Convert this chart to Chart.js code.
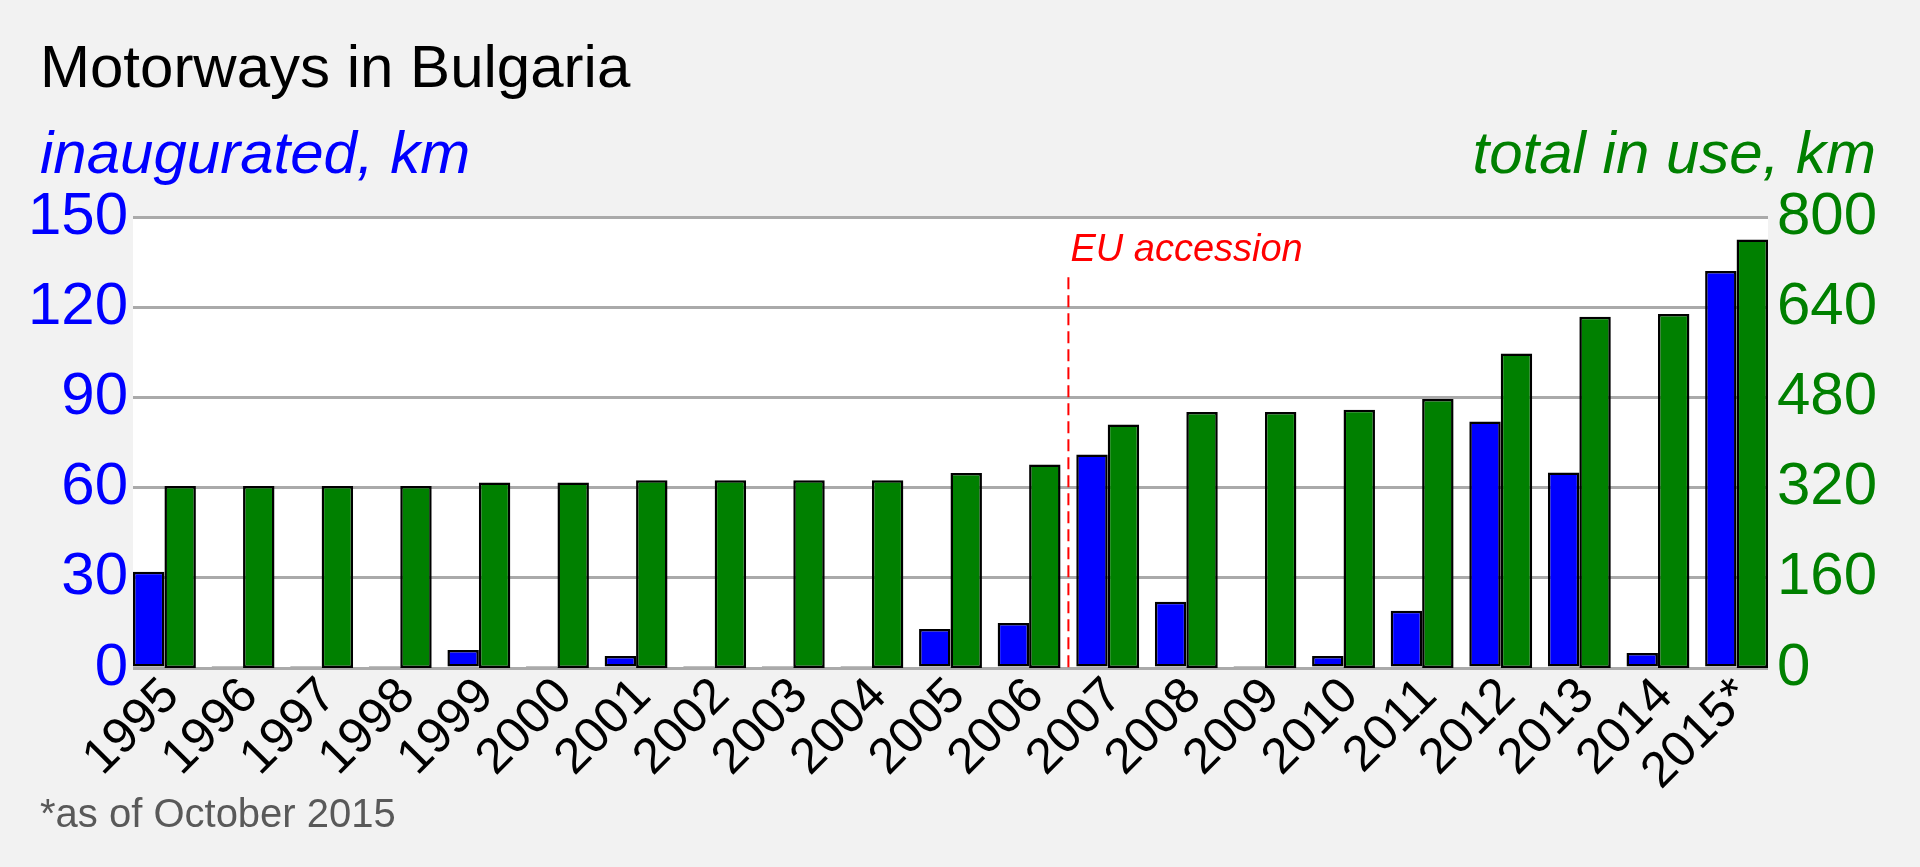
<!DOCTYPE html>
<html>
<head>
<meta charset="utf-8">
<title>Motorways in Bulgaria</title>
<script src="https://cdn.jsdelivr.net/npm/chart.js@4.4.1/dist/chart.umd.min.js"></script>
<style>
  html, body { margin: 0; padding: 0; background: #f2f2f2; }
  canvas { display: block; }
</style>
</head>
<body>
<canvas id="motorwaychart" width="1920" height="867"></canvas>
<script>
// values
var years = [1995, 1996, 1997, 1998, 1999, 2000, 2001, 2002, 2003, 2004, 2005,
             2006, 2007, 2008, 2009, 2010, 2011, 2012, 2013, 2014, 2015];
var yearLabels = ['1995', '1996', '1997', '1998', '1999', '2000', '2001', '2002', '2003', '2004', '2005',
                  '2006', '2007', '2008', '2009', '2010', '2011', '2012', '2013', '2014', '2015*'];
var inaugurated = [32, 0, 0, 0, 6, 0, 4, 0, 0, 0, 13, 15, 71, 22, 0, 4, 19, 82, 65, 5, 132];
var totalInUse = [323, 323, 323, 323, 329, 329, 333, 333, 333, 333, 346, 361, 432, 454, 454, 458, 477, 558, 623, 628, 760];
var inauguratedTicks = [0, 30, 60, 90, 120, 150];
var totalTicks = [0, 160, 320, 480, 640, 800];
var euAccession = 2006.5;

var FONT = '"Liberation Sans", Arial, sans-serif';
var groupShare = 0.8;

function points(values) {
    return values.map(function (v, i) { return { x: years[i], y: v }; });
}

function fixedTicks(list) {
    return function (axis) {
        axis.ticks = list.map(function (v) { return { value: v }; });
    };
}

// grey page, white plot area
var backdrop = {
    id: 'backdrop',
    beforeDraw: function (chart) {
        var ctx = chart.ctx, a = chart.chartArea;
        ctx.save();
        ctx.fillStyle = '#f2f2f2';
        ctx.fillRect(0, 0, chart.width, chart.height);
        ctx.fillStyle = '#ffffff';
        ctx.fillRect(a.left, a.top, a.right - a.left, a.bottom - a.top);
        ctx.restore();
    }
};

// titles, EU accession marker and footnote
var captions = {
    id: 'captions',
    afterDatasetsDraw: function (chart) {
        var ctx = chart.ctx, a = chart.chartArea;
        var xs = chart.scales.x, ys = chart.scales.y;
        var px = xs.getPixelForValue(euAccession);

        ctx.save();
        ctx.strokeStyle = '#ff0000';
        ctx.lineWidth = 2;
        ctx.setLineDash([12, 6]);
        ctx.beginPath();
        ctx.moveTo(px, ys.getPixelForValue(130));
        ctx.lineTo(px, a.bottom);
        ctx.stroke();
        ctx.setLineDash([]);

        ctx.textBaseline = 'alphabetic';
        ctx.fillStyle = '#ff0000';
        ctx.font = 'italic 38px ' + FONT;
        ctx.textAlign = 'left';
        ctx.fillText('EU accession', px + 2, ys.getPixelForValue(135.3));

        ctx.fillStyle = '#000000';
        ctx.font = '60px ' + FONT;
        ctx.fillText('Motorways in Bulgaria', 40, 87);

        ctx.font = 'italic 60px ' + FONT;
        ctx.fillStyle = '#0000ff';
        ctx.fillText('inaugurated, km', 40, 173);
        ctx.fillStyle = '#008000';
        ctx.textAlign = 'right';
        ctx.fillText('total in use, km', 1876, 173);

        ctx.textAlign = 'left';
        ctx.fillStyle = '#595959';
        ctx.font = '40px ' + FONT;
        ctx.fillText('*as of October 2015', 40, 827);
        ctx.restore();
    }
};

var ctx = document.getElementById('motorwaychart').getContext('2d');
var motorwaychart = new Chart(ctx, {
    type: 'bar',
    data: {
        datasets: [{
            label: 'inaugurated, km',
            data: points(inaugurated),
            yAxisID: 'y',
            backgroundColor: '#0000ff',
            borderColor: '#000000',
            borderWidth: 2.5,
            borderSkipped: false,
            minBarLength: 2
        }, {
            label: 'total in use, km',
            data: points(totalInUse),
            yAxisID: 'y2',
            backgroundColor: '#008000',
            borderColor: '#000000',
            borderWidth: 2.5,
            borderSkipped: false
        }]
    },
    options: {
        responsive: false,
        devicePixelRatio: 1,
        animation: false,
        categoryPercentage: groupShare,
        barPercentage: 1,
        layout: { padding: { top: 217, left: 0, right: 0, bottom: 0 } },
        plugins: {
            legend: { display: false },
            tooltip: { enabled: false }
        },
        scales: {
            x: {
                type: 'linear',
                min: years[0] - groupShare / 2,
                max: years[years.length - 1] + groupShare / 2,
                offset: false,
                grid: { display: false, drawTicks: false },
                border: { display: false },
                afterBuildTicks: fixedTicks(years),
                afterFit: function (axis) { axis.height = 199; },
                ticks: {
                    autoSkip: false,
                    minRotation: 45,
                    maxRotation: 45,
                    padding: -1,
                    labelOffset: 7,
                    color: '#000000',
                    font: { family: FONT, size: 50 },
                    callback: function (value) {
                        var i = years.indexOf(value);
                        return i < 0 ? '' : yearLabels[i];
                    }
                }
            },
            y: {
                position: 'left',
                min: 0,
                max: 150,
                grid: { color: '#aaaaaa', lineWidth: 3, drawTicks: false },
                border: { display: false },
                afterBuildTicks: fixedTicks(inauguratedTicks),
                afterFit: function (axis) { axis.width = 133; },
                ticks: {
                    padding: 5,
                    color: '#0000ff',
                    font: { family: FONT, size: 60 }
                }
            },
            y2: {
                position: 'right',
                min: 0,
                max: 800,
                grid: { display: false, drawTicks: false },
                border: { display: false },
                afterBuildTicks: fixedTicks(totalTicks),
                afterFit: function (axis) { axis.width = 152; },
                ticks: {
                    padding: 9,
                    color: '#008000',
                    font: { family: FONT, size: 60 }
                }
            }
        }
    },
    plugins: [backdrop, captions]
});
</script>
</body>
</html>
